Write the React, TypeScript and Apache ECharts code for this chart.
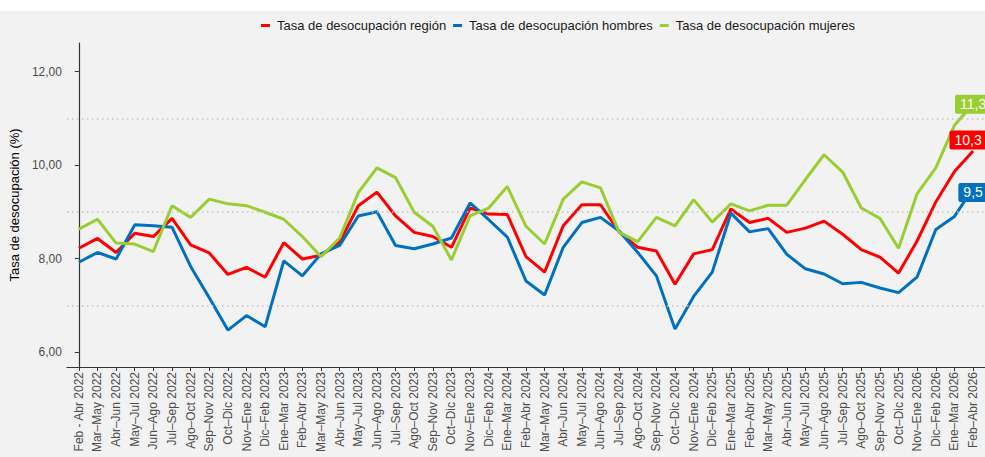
import React, { useEffect, useRef } from "react";
import * as echarts from "echarts";

const categories = [
  "Feb - Abr 2022", "Mar–May 2022", "Abr–Jun 2022", "May–Jul 2022", "Jun–Ago 2022", "Jul–Sep 2022",
  "Ago–Oct 2022", "Sep–Nov 2022", "Oct–Dic 2022", "Nov–Ene 2022", "Dic–Feb 2023", "Ene–Mar 2023",
  "Feb–Abr 2023", "Mar–May 2023", "Abr–Jun 2023", "May–Jul 2023", "Jun–Ago 2023", "Jul–Sep 2023",
  "Ago–Oct 2023", "Sep–Nov 2023", "Oct–Dic 2023", "Nov–Ene 2023", "Dic–Feb 2024", "Ene–Mar 2024",
  "Feb–Abr 2024", "Mar–May 2024", "Abr–Jun 2024", "May–Jul 2024", "Jun–Ago 2024", "Jul–Sep 2024",
  "Ago–Oct 2024", "Sep–Nov 2024", "Oct–Dic 2024", "Nov–Ene 2024", "Dic–Feb 2025", "Ene–Mar 2025",
  "Feb–Abr 2025", "Mar–May 2025", "Abr–Jun 2025", "May–Jul 2025", "Jun–Ago 2025", "Jul–Sep 2025",
  "Ago–Oct 2025", "Sep–Nov 2025", "Oct–Dic 2025", "Nov–Ene 2026", "Dic–Feb 2026", "Ene–Mar 2026",
  "Feb–Abr 2026",
];

const region = [
  8.22, 8.43, 8.13, 8.54, 8.47, 8.86, 8.29, 8.12, 7.66, 7.81, 7.6, 8.34, 7.99, 8.07, 8.35, 9.13, 9.42,
  8.91, 8.56, 8.47, 8.24, 9.08, 8.95, 8.94, 8.04, 7.71, 8.7, 9.15, 9.15, 8.57, 8.24, 8.16, 7.45, 8.1,
  8.19, 9.06, 8.77, 8.86, 8.56, 8.65, 8.8, 8.52, 8.19, 8.03, 7.69, 8.38, 9.21, 9.86, 10.3,
];

const hombres = [
  7.92, 8.13, 7.99, 8.72, 8.7, 8.67, 7.83, 7.16, 6.47, 6.78, 6.54, 7.95, 7.63, 8.1, 8.28, 8.91, 9.0,
  8.28, 8.21, 8.31, 8.44, 9.19, 8.83, 8.46, 7.52, 7.22, 8.24, 8.77, 8.88, 8.59, 8.13, 7.63, 6.49, 7.19,
  7.71, 8.97, 8.57, 8.64, 8.09, 7.78, 7.67, 7.46, 7.49, 7.37, 7.27, 7.61, 8.62, 8.9, 9.5,
];

const mujeres = [
  8.63, 8.84, 8.33, 8.31, 8.15, 9.13, 8.88, 9.27, 9.17, 9.13, 8.99, 8.84, 8.47, 8.04, 8.44, 9.41, 9.94,
  9.73, 8.99, 8.69, 7.97, 8.91, 9.08, 9.54, 8.69, 8.31, 9.27, 9.64, 9.51, 8.56, 8.36, 8.88, 8.7, 9.26,
  8.78, 9.17, 9.02, 9.14, 9.14, 9.69, 10.22, 9.85, 9.08, 8.86, 8.22, 9.39, 9.94, 10.85, 11.3,
];

const yTicks = [6, 8, 10, 12];
const gridValues = [7, 9, 11];

const seriesNames = [
  "Tasa de desocupación región",
  "Tasa de desocupación hombres",
  "Tasa de desocupación mujeres",
];
const seriesColors = ["#ff0000", "#0070c0", "#9acd32"];
const seriesValues = [region, hombres, mujeres];
const labelOffsets = [
  [-5, -11],
  [0, 4],
  [0, 0],
];

const FONT = "'Liberation Sans', Arial, sans-serif";

export default function App() {
  const ref = useRef<HTMLDivElement>(null);

  useEffect(() => {
    document.body.style.margin = "0";
    if (!ref.current) return;
    const chart = echarts.init(ref.current, null, { renderer: "svg" });
    const idx = categories.map((_, i) => i);
    const fmt1 = (v: number) => v.toFixed(1).replace(".", ",");

    const lineSeries = seriesValues.map((vals, s) => ({
      name: seriesNames[s],
      type: "line",
      z: 3,
      data: vals.map((v, i) => [i, v]),
      showSymbol: false,
      symbol: "none",
      lineStyle: { color: seriesColors[s], width: 3 },
      itemStyle: { color: seriesColors[s] },
      endLabel: {
        show: true,
        distance: 0,
        align: "center",
        verticalAlign: "middle",
        offset: labelOffsets[s],
        formatter: (p: any) => fmt1(p.value[1]),
        backgroundColor: seriesColors[s],
        color: "#ffffff",
        fontFamily: FONT,
        fontSize: 14,
        padding: [3, 5, 2, 5],
        borderRadius: 2,
      },
    }));

    chart.setOption({
      animation: false,
      backgroundColor: "#f2f2f2",
      textStyle: { fontFamily: FONT },
      graphic: [
        {
          type: "rect",
          left: 0,
          top: 0,
          shape: { width: 985, height: 11 },
          style: { fill: "#ffffff" },
        },
      ],
      legend: {
        data: seriesNames,
        left: 261,
        top: 19,
        padding: 0,
        itemWidth: 9,
        itemHeight: 3,
        itemGap: 7,
        icon: "rect",
        textStyle: { fontSize: 13, color: "#1a1a1a", fontFamily: FONT, padding: [0, 0, 0, 2] },
      },
      grid: { left: 64, right: -3, top: 43, bottom: 90, containLabel: false },
      xAxis: {
        type: "value",
        min: -0.64,
        max: 48.64,
        splitLine: { show: false },
        axisLine: { show: true, lineStyle: { color: "#333333", width: 1.2 } },
        axisTick: { show: true, customValues: idx, length: 4, lineStyle: { color: "#333333" } },
        axisLabel: {
          customValues: idx,
          rotate: 90,
          margin: 5,
          fontSize: 12,
          color: "#4d4d4d",
          fontFamily: FONT,
          formatter: (v: number) => categories[Math.round(v)] ?? "",
        },
      },
      yAxis: {
        type: "value",
        min: 5.68,
        max: 12.61,
        name: "Tasa de desocupación (%)",
        nameLocation: "middle",
        nameGap: 34,
        nameTextStyle: { fontSize: 13, color: "#000000", fontFamily: FONT },
        splitLine: { show: false },
        axisLine: { show: true, lineStyle: { color: "#333333", width: 1.2 } },
        axisTick: { show: true, customValues: yTicks, length: 4, lineStyle: { color: "#333333" } },
        axisLabel: {
          customValues: yTicks,
          margin: 5,
          fontSize: 12,
          color: "#4d4d4d",
          fontFamily: FONT,
          formatter: (v: number) => v.toFixed(2).replace(".", ","),
        },
      },
      series: [
        {
          name: "grid",
          type: "line",
          z: 1,
          data: [],
          markLine: {
            silent: true,
            symbol: ["none", "none"],
            label: { show: false },
            lineStyle: { color: "#c4c4c4", width: 1.5, type: [1.5, 3.5] },
            data: gridValues.map((v) => ({ yAxis: v })),
          },
        },
        ...lineSeries,
      ],
    });
    return () => chart.dispose();
  }, []);

  return (
    <div style={{ width: 985, height: 457, overflow: "hidden", background: "#ffffff" }}>
      <div ref={ref} style={{ width: 985, height: 457 }} />
    </div>
  );
}
